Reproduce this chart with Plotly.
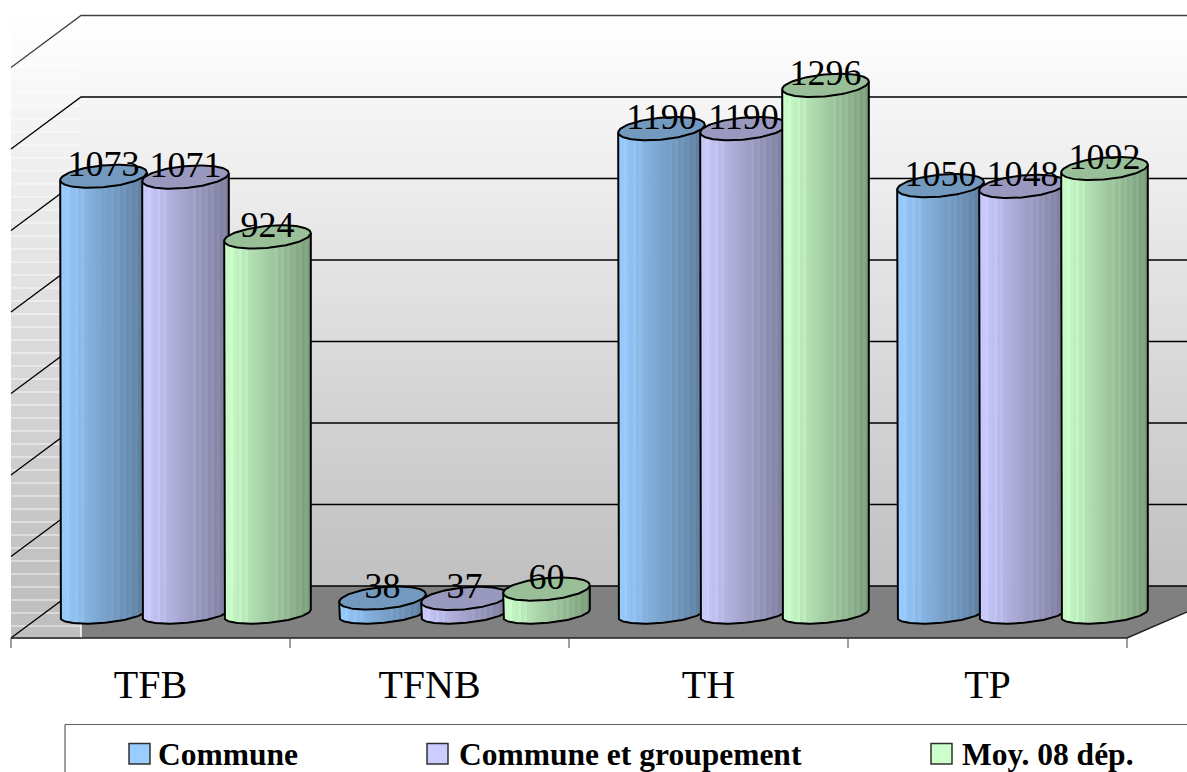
import numpy as np
import plotly.graph_objects as go

categories = ["TFB", "TFNB", "TH", "TP"]
series_names = ["Commune", "Commune et groupement", "Moy. 08 dép."]
commune = [1073, 38, 1190, 1050]
commune_groupement = [1071, 37, 1190, 1048]
moy_08_dep = [924, 60, 1296, 1092]
gridline_values = [0, 200, 400, 600, 800, 1000, 1200, 1400]

W, H = 1187, 772
Y0_PX = 586.0      # pixel row of value 0 on the back wall
PX_PER_UNIT = 0.4075
def unit(px):      # pixel length -> value units
    return px / PX_PER_UNIT
def val(py):       # pixel row -> value on y axis
    return (Y0_PX - py) / PX_PER_UNIT
def pap(py):
    return 1 - py / H

FONT = "Liberation Serif"
base_cols = [(0x99, 0xCC, 0xFF), (0xCC, 0xCC, 0xFF), (0xCC, 0xFF, 0xCC)]
legend_x = [129, 427, 931]
legend_text_x = [156, 457, 960]

fig = go.Figure()

# back wall gradient
edges = np.linspace(0, 1400, 141)
z = [[255 - 63 * (1400 - (edges[i] + edges[i + 1]) / 2) / 1400] for i in range(140)]
cs = [[0, "#c0c0c0"], [1, "#ffffff"]]
fig.add_trace(go.Heatmap(x=[81, W + 5], y=edges, z=z, zmin=192, zmax=255, colorscale=cs,
                         showscale=False, hoverinfo="skip"))
# left wall bands
band_rows = [639 - 13 * k for k in range(49)]
band_edges = [val(r) for r in band_rows]
z2 = []
for k in range(48):
    mid = (band_rows[k] + band_rows[k + 1]) / 2
    z2.append([255 - 63 * min(1, max(0, (mid - 16) / 570))])
fig.add_trace(go.Heatmap(x=[11, 81], y=band_edges, z=z2, zmin=192, zmax=255, colorscale=cs,
                         showscale=False, hoverinfo="skip"))
depth_y = unit(52)
fig.add_trace(go.Scatter(x=[11, 81, 81, 11, 11], y=[-depth_y, -depth_y, 0, 0, -depth_y], mode="lines", fill="toself",
                         fillcolor="#c0c0c0", line=dict(width=0), hoverinfo="skip"))
lx, ly = [], []
for r in band_rows[1:]:
    lx += [11, 81, None]
    ly += [val(r), val(r), None]
fig.add_trace(go.Scatter(x=lx, y=ly, mode="lines", line=dict(color="rgba(255,255,255,0.8)", width=1), hoverinfo="skip"))

# floor
fig.add_trace(go.Scatter(x=[81, W + 60, 1127, 81, 81], y=[0, 0, -depth_y, -depth_y, 0], mode="lines",
                         fill="toself", fillcolor="#808080", line=dict(width=0), hoverinfo="skip"))
fig.add_trace(go.Scatter(x=[81, 81], y=[0, -depth_y], mode="lines", line=dict(color="white", width=1.5), hoverinfo="skip"))

# grid lines
gx, gy = [], []
for v in gridline_values[:-1]:
    gx += [11, 81, W + 5, None]
    gy += [v - depth_y, v, v, None]
fig.add_trace(go.Scatter(x=gx, y=gy, mode="lines", line=dict(color="#000000", width=1.3), hoverinfo="skip"))
top = gridline_values[-1]
fig.add_trace(go.Scatter(x=[11, 81, W + 5], y=[top - depth_y, top, top], mode="lines",
                         line=dict(color="#404040", width=1.3), hoverinfo="skip"))
# floor front edge, right edge, ticks
fig.add_trace(go.Scatter(x=[11, 1127, W + 60], y=[-depth_y, -depth_y, 0], mode="lines",
                         line=dict(color="#202020", width=1.6), hoverinfo="skip"))
tx, ty = [], []
for i in range(5):
    x = 11 + 279 * i
    tx += [x, x, None]
    ty += [-depth_y, val(648), None]
fig.add_trace(go.Scatter(x=tx, y=ty, mode="lines", line=dict(color="#404040", width=1), hoverinfo="skip"))

# cylinders
A, B, PHI = 43.5, 10.9, np.radians(5.5)
t = np.linspace(0, 2 * np.pi, 121)
ex = A * np.cos(t) * np.cos(PHI) - B * np.sin(t) * np.sin(PHI)
ey_u = unit(1) * (A * np.cos(t) * np.sin(PHI) + B * np.sin(t) * np.cos(PHI))
i_l, i_r = int(np.argmin(ex)), int(np.argmax(ex))

def walk(a, b):
    out = []
    for j in (np.arange(a, a + 121) % 120):
        out.append(j)
        if j == b:
            break
    return out

arc = walk(i_l, i_r)
if ey_u[arc].mean() > 0:
    arc = walk(i_r, i_l)[::-1]
arc_x = ex[arc]
arc_y = ey_u[arc]
BOTTOM_SQUASH = 0.86     # the base ellipse looks flatter than the cap
chord = np.interp(arc_x, [arc_x[0], arc_x[-1]], [arc_y[0], arc_y[-1]])
arc_y_b = chord + (arc_y - chord) * BOTTOM_SQUASH
HALF_W = ex.max()
N = 29
LIGHT = {2, 5, 7, 17, 19, 21, 23, 25, 27}

all_series = [commune, commune_groupement, moy_08_dep]
def rgb(c, f):
    return "rgb(%d,%d,%d)" % tuple(min(255, int(round(v * f))) for v in c)

lab_x, lab_y, lab_t = [], [], []
for g in range(4):
    for s in range(3):
        cx = 103.5 + 279 * g + 82 * s
        v = all_series[s][g]
        ybot = -unit(613.5 - Y0_PX)
        ytop = ybot + v
        es = np.linspace(-HALF_W, HALF_W, N + 1)
        for k in range(N):
            xs = np.linspace(es[k], min(es[k + 1] + 0.7, HALF_W), 5)
            low = np.interp(xs, arc_x, arc_y)
            low_b = np.interp(xs, arc_x, arc_y_b)
            px = np.concatenate([xs, xs[::-1]]) + cx
            py = np.concatenate([ybot + low_b, (ytop + low)[::-1]])
            f = 1.0 - 0.40 * (k + 0.5) / N + (0.035 if k in LIGHT else 0)
            fig.add_trace(go.Scatter(x=px, y=py, mode="lines", fill="toself", fillcolor=rgb(base_cols[s], f),
                                     line=dict(width=0), hoverinfo="skip"))
        ox = np.concatenate([[arc_x[0]], arc_x, [arc_x[-1]]]) + cx
        oy = np.concatenate([[ytop + arc_y[0]], ybot + arc_y_b, [ytop + arc_y[-1]]])
        fig.add_trace(go.Scatter(x=ox, y=oy, mode="lines", line=dict(color="black", width=2), hoverinfo="skip"))
        fig.add_trace(go.Scatter(x=ex + cx, y=ytop + ey_u, mode="lines", fill="toself",
                                 fillcolor=rgb(base_cols[s], 0.75), line=dict(color="black", width=2), hoverinfo="skip"))
        lab_x.append(cx)
        lab_y.append(ytop + unit(9))
        lab_t.append(str(v))

fig.add_trace(go.Scatter(x=lab_x, y=lab_y, text=lab_t, mode="text", textposition="middle center",
                         textfont=dict(family=FONT, size=36, color="black"), hoverinfo="skip"))
# category labels
fig.add_trace(go.Scatter(x=[150.5 + 279 * i for i in range(4)], y=[val(688)] * 4, text=categories, mode="text",
                         textposition="middle center", textfont=dict(family=FONT, size=40, color="black"),
                         hoverinfo="skip"))

shapes = [
    dict(type="line", xref="x", yref="paper", x0=65, x1=W + 5, y0=pap(724.5), y1=pap(724.5), line=dict(color="#606060", width=1.2)),
    dict(type="line", xref="x", yref="paper", x0=65, x1=65, y0=pap(724.5), y1=0, line=dict(color="#606060", width=1.2)),
]
ann = []
for s in range(3):
    shapes.append(dict(type="rect", xref="x", yref="paper", x0=legend_x[s], x1=legend_x[s] + 21, y0=pap(764), y1=pap(743.5),
                       fillcolor=rgb(base_cols[s], 1), line=dict(color="#303030", width=1.5)))
    ann.append(dict(x=legend_text_x[s], y=pap(754), xref="x", yref="paper", text="<b>%s</b>" % series_names[s], showarrow=False,
                    xanchor="left", yanchor="middle", font=dict(family=FONT, size=31.5, color="black")))

fig.update_layout(
    width=W, height=H, margin=dict(l=0, r=0, t=0, b=0), showlegend=False,
    paper_bgcolor="white", plot_bgcolor="white",
    xaxis=dict(range=[0, W], visible=False, fixedrange=True),
    yaxis=dict(range=[val(H), val(0)], visible=False, fixedrange=True),
    shapes=shapes, annotations=ann,
)
fig.write_html("out.html", post_script="document.body.style.margin='0';", config={"displayModeBar": False})
